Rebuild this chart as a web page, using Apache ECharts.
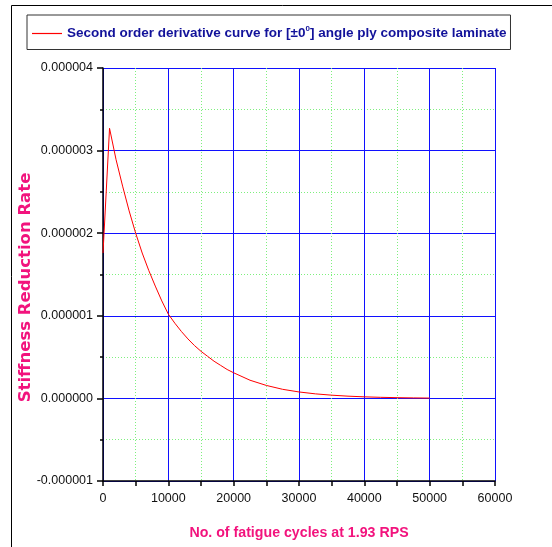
<!DOCTYPE html>
<html>
<head>
<meta charset="utf-8">
<script src="https://cdn.jsdelivr.net/npm/echarts@6/dist/echarts.min.js"></script>
<style>
html,body{margin:0;padding:0;background:#fff;}
#chart{width:552px;height:547px;}
</style>
</head>
<body>
<div id="chart"></div>
<script>
// Fatigue cycles (x) and stiffness reduction rate (in units of 1e-6)
var cycles = [0, 1000, 2000, 3000, 4000, 5000, 6000, 7000, 8000, 9000, 10000,
  11000, 12000, 13000, 14000, 15000, 16000, 17000, 18000, 19000, 20000,
  22500, 25000, 27500, 30000, 32500, 35000, 37500, 40000, 42500, 45000, 47500, 50000];
var rateMicro = [1.76, 3.27, 2.89, 2.57, 2.27, 2.00, 1.76, 1.55, 1.36, 1.18, 1.02,
  0.91, 0.81, 0.72, 0.64, 0.57, 0.51, 0.45, 0.40, 0.35, 0.31,
  0.22, 0.157, 0.11, 0.078, 0.055, 0.039, 0.027, 0.019, 0.013, 0.009, 0.006, 0.004];
var seriesName = 'Second order derivative curve for [±0] angle ply composite laminate';
var xTitle = 'No. of fatigue cycles at 1.93 RPS';
var yTitle = 'Stiffness Reduction Rate';

var data = cycles.map(function (c, i) { return [c, rateMicro[i]]; });

var chart = echarts.init(document.getElementById('chart'), null, {renderer: 'canvas'});
var sans = '"Liberation Sans", Arial, Helvetica, sans-serif';
var pink = '#f2137d';
var navy = '#12129a';
chart.setOption({
  animation: false,
  backgroundColor: '#ffffff',
  graphic: [{
    type: 'rect', shape: {x: 11.5, y: 5.5, width: 700, height: 700},
    style: {fill: 'none', stroke: '#000', lineWidth: 1}, silent: true
  }],
  legend: {
    left: 27, top: 15,
    borderColor: '#333', borderWidth: 1,
    padding: [10, 4, 9, 5],
    itemWidth: 30, itemHeight: 1.2, itemGap: 0,
    icon: 'rect',
    itemStyle: {color: '#ff0000', borderWidth: 0},
    formatter: function () {
      return '{t|Second order derivative curve for [±0}{s|0}{t|] angle ply composite laminate}';
    },
    textStyle: {
      rich: {
        t: {fontFamily: sans, fontWeight: 'bold', fontSize: 13.5, color: navy},
        s: {fontFamily: sans, fontWeight: 'bold', fontSize: 8, color: navy, verticalAlign: 'top', padding: [0, 0, 9, 0]}
      }
    },
    data: [{name: seriesName, itemStyle: {color: '#ff0000', borderWidth: 0}}]
  },
  grid: {left: 103, right: 57, top: 68, bottom: 66, containLabel: false, outerBoundsMode: 'none'},
  xAxis: {
    type: 'value', min: 0, max: 60000, interval: 10000,
    name: xTitle, nameLocation: 'middle', nameGap: 45, nameMoveOverlap: false,
    nameTextStyle: {fontFamily: sans, fontWeight: 'bold', fontSize: 14.2, color: pink},
    axisLine: {show: true, onZero: false, lineStyle: {color: '#000', width: 1.5}},
    axisTick: {show: true, length: 5, lineStyle: {color: '#000', width: 1.5}},
    minorTick: {show: true, splitNumber: 2, length: 5, lineStyle: {color: '#000', width: 1.5}},
    axisLabel: {fontFamily: sans, fontSize: 12.5, color: '#111', margin: 11,
      formatter: function (v) { return String(v); }},
    splitLine: {show: true, lineStyle: {color: '#1010ff', width: 1}},
    minorSplitLine: {show: true, lineStyle: {color: '#7ef07e', width: 1, type: [1, 2]}}
  },
  yAxis: {
    type: 'value', min: -1, max: 4, interval: 1,
    name: yTitle, nameLocation: 'middle', nameGap: 69, nameMoveOverlap: false,
    nameTextStyle: {fontFamily: '"DejaVu Sans", sans-serif', fontWeight: 'bold', fontSize: 16.5, color: pink,
      padding: [0, 26, 0, 0]},
    axisLine: {show: true, onZero: false, lineStyle: {color: '#000', width: 1.5}},
    axisTick: {show: true, length: 6, lineStyle: {color: '#000', width: 1.5}},
    minorTick: {show: true, splitNumber: 2, length: 3, lineStyle: {color: '#000', width: 1.5}},
    axisLabel: {fontFamily: sans, fontSize: 12.5, color: '#111', margin: 10,
      formatter: function (v) { return (v * 1e-6).toFixed(6); }},
    splitLine: {show: true, lineStyle: {color: '#1010ff', width: 1}},
    minorSplitLine: {show: true, lineStyle: {color: '#7ef07e', width: 1, type: [1, 2]}}
  },
  series: [{
    name: seriesName, type: 'line', data: data, showSymbol: false, symbol: 'none',
    lineStyle: {color: '#ff0000', width: 1}, itemStyle: {color: '#ff0000'}
  }]
});
</script>
</body>
</html>
